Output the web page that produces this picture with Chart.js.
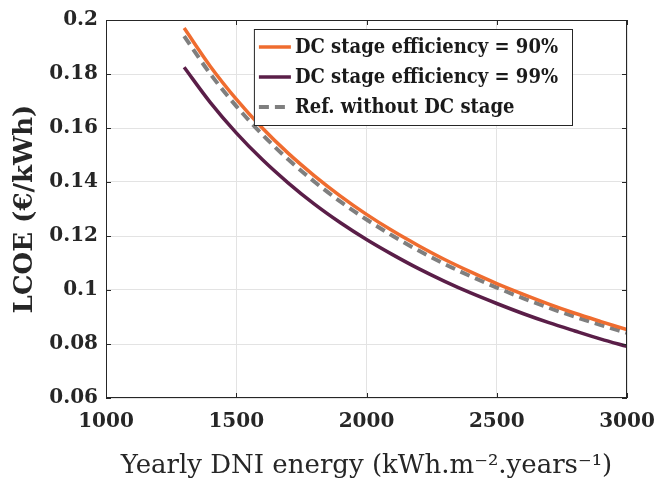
<!DOCTYPE html>
<html>
<head>
<meta charset="utf-8">
<script src="https://cdn.jsdelivr.net/npm/chart.js@4.4.1/dist/chart.umd.min.js"></script>
<style>
  html, body { margin: 0; padding: 0; background: #fff; }
  #wrap { width: 672px; height: 485px; }
</style>
</head>
<body>
<div id="wrap"><canvas id="lcoeChart" width="672" height="485"></canvas></div>
<script>
// yearly DNI (kWh/m2/year)
const dni = [1300, 1400, 1500, 1600, 1700, 1800, 1900, 2000, 2100, 2200, 2300, 2400, 2500, 2600, 2700, 2800, 2900, 3000];
// LCOE in EUR/kWh
const lcoe90 = [0.197, 0.1829, 0.1707, 0.160, 0.1506, 0.1423, 0.1348, 0.128, 0.1219, 0.1164, 0.1113, 0.1067, 0.1024, 0.0985, 0.0948, 0.0914, 0.0883, 0.0853];
const lcoe99 = [0.1825, 0.1695, 0.1582, 0.1483, 0.1396, 0.1318, 0.1249, 0.1187, 0.1131, 0.1079, 0.1032, 0.0989, 0.095, 0.0913, 0.0879, 0.0848, 0.0818, 0.0791];
const lcoeRef = [0.194, 0.1801, 0.1681, 0.1576, 0.1483, 0.1401, 0.1327, 0.1261, 0.1201, 0.1146, 0.1096, 0.1051, 0.1009, 0.097, 0.0934, 0.0901, 0.087, 0.0841];
const xTicks = [1000, 1500, 2000, 2500, 3000];
const yTicks = [0.06, 0.08, 0.1, 0.12, 0.14, 0.16, 0.18, 0.2];
const seriesNames = ['DC stage efficiency = 90%', 'DC stage efficiency = 99%', 'Ref. without DC stage'];

const SERIF = '"DejaVu Serif", "Liberation Serif", serif';
const SERIF_NARROW = '"DejaVu Serif Condensed", "DejaVu Serif", serif';

const pts = ys => dni.map((x, i) => ({ x: x, y: ys[i] }));

// box around the plot with small inward ticks on all sides
const frame = {
  id: 'frame',
  afterDatasetsDraw(chart) {
    const { ctx, chartArea: a, scales } = chart;
    ctx.save();
    ctx.strokeStyle = '#262626';
    ctx.lineWidth = 1;
    ctx.strokeRect(a.left + 0.5, a.top + 0.5, a.right - a.left - 1, a.bottom - a.top - 1);
    ctx.beginPath();
    xTicks.forEach(v => {
      const px = Math.round(scales.x.getPixelForValue(v)) + 0.5;
      ctx.moveTo(px, a.bottom); ctx.lineTo(px, a.bottom - 5);
      ctx.moveTo(px, a.top); ctx.lineTo(px, a.top + 5);
    });
    yTicks.forEach(v => {
      const py = Math.round(scales.y.getPixelForValue(v)) + 0.5;
      ctx.moveTo(a.left, py); ctx.lineTo(a.left + 5, py);
      ctx.moveTo(a.right, py); ctx.lineTo(a.right - 5, py);
    });
    ctx.stroke();
    ctx.restore();
  }
};

// legend box in the upper right of the plot
const boxLegend = {
  id: 'boxLegend',
  afterDraw(chart) {
    const { ctx, chartArea: a } = chart;
    const sets = chart.data.datasets;
    const right = a.right - 55, top = a.top + 9;
    const rowH = 30, lineW = 32, gap = 4, padX = 5;
    ctx.save();
    ctx.font = 'bold 20px ' + SERIF_NARROW;
    const textW = Math.max(...sets.map(d => ctx.measureText(d.label).width));
    const w = padX + lineW + gap + textW + 14;
    const h = rowH * sets.length + 6;
    const left = right - w;
    ctx.fillStyle = '#fff';
    ctx.fillRect(left, top, w, h);
    ctx.strokeStyle = '#262626';
    ctx.lineWidth = 1;
    ctx.strokeRect(left + 0.5, top + 0.5, w, h);
    sets.forEach((d, i) => {
      const cy = top + 18 + i * rowH;
      ctx.beginPath();
      ctx.strokeStyle = d.borderColor;
      ctx.lineWidth = d.borderWidth;
      ctx.setLineDash(d.borderDash || []);
      ctx.moveTo(left + padX, cy);
      ctx.lineTo(left + padX + lineW, cy);
      ctx.stroke();
      ctx.setLineDash([]);
      ctx.fillStyle = '#1a1a1a';
      ctx.textBaseline = 'middle';
      ctx.fillText(d.label, left + padX + lineW + gap, cy + 1);
    });
    ctx.restore();
  }
};

new Chart(document.getElementById('lcoeChart'), {
  type: 'line',
  data: {
    datasets: [
      { label: seriesNames[0], data: pts(lcoe90), borderColor: '#EF6C2F', borderWidth: 3.5 },
      { label: seriesNames[1], data: pts(lcoe99), borderColor: '#5A1E48', borderWidth: 3.5 },
      { label: seriesNames[2], data: pts(lcoeRef), borderColor: '#7F7F7F', borderWidth: 4, borderDash: [10, 6] }
    ]
  },
  options: {
    responsive: false,
    animation: false,
    layout: { padding: { top: 12, right: 45, left: 0, bottom: 0 } },
    elements: {
      point: { radius: 0 },
      line: { tension: 0.4, cubicInterpolationMode: 'monotone', fill: false }
    },
    plugins: { legend: { display: false }, tooltip: { enabled: false } },
    scales: {
      x: {
        type: 'linear',
        min: 1000, max: 3000,
        afterBuildTicks: s => { s.ticks = xTicks.map(v => ({ value: v })); },
        afterFit: s => { s.height = 87; },
        grid: { color: '#e3e3e3', drawTicks: false },
        border: { display: false },
        ticks: {
          color: '#262626', padding: 12, maxRotation: 0,
          font: { family: SERIF, size: 20, weight: 'bold' },
          callback: v => String(v)
        },
        title: {
          display: true,
          text: 'Yearly DNI energy (kWh.m\u207B\u00B2.years\u207B\u00B9)',
          color: '#262626',
          font: { family: SERIF, size: 26 },
          padding: { top: 0, bottom: 3 }
        }
      },
      y: {
        min: 0.06, max: 0.2,
        afterBuildTicks: s => { s.ticks = yTicks.map(v => ({ value: v })); },
        afterFit: s => { s.width = 106; },
        grid: { color: '#e3e3e3', drawTicks: false },
        border: { display: false },
        ticks: {
          color: '#262626', padding: 8,
          font: { family: SERIF, size: 20, weight: 'bold' },
          callback: v => String(+v.toFixed(2))
        },
        title: {
          display: true,
          text: 'LCOE (\u20AC/kWh)',
          color: '#262626',
          font: { family: SERIF, size: 26, weight: 'bold' },
          padding: { top: 10, bottom: 0 }
        }
      }
    }
  },
  plugins: [frame, boxLegend]
});
</script>
</body>
</html>
